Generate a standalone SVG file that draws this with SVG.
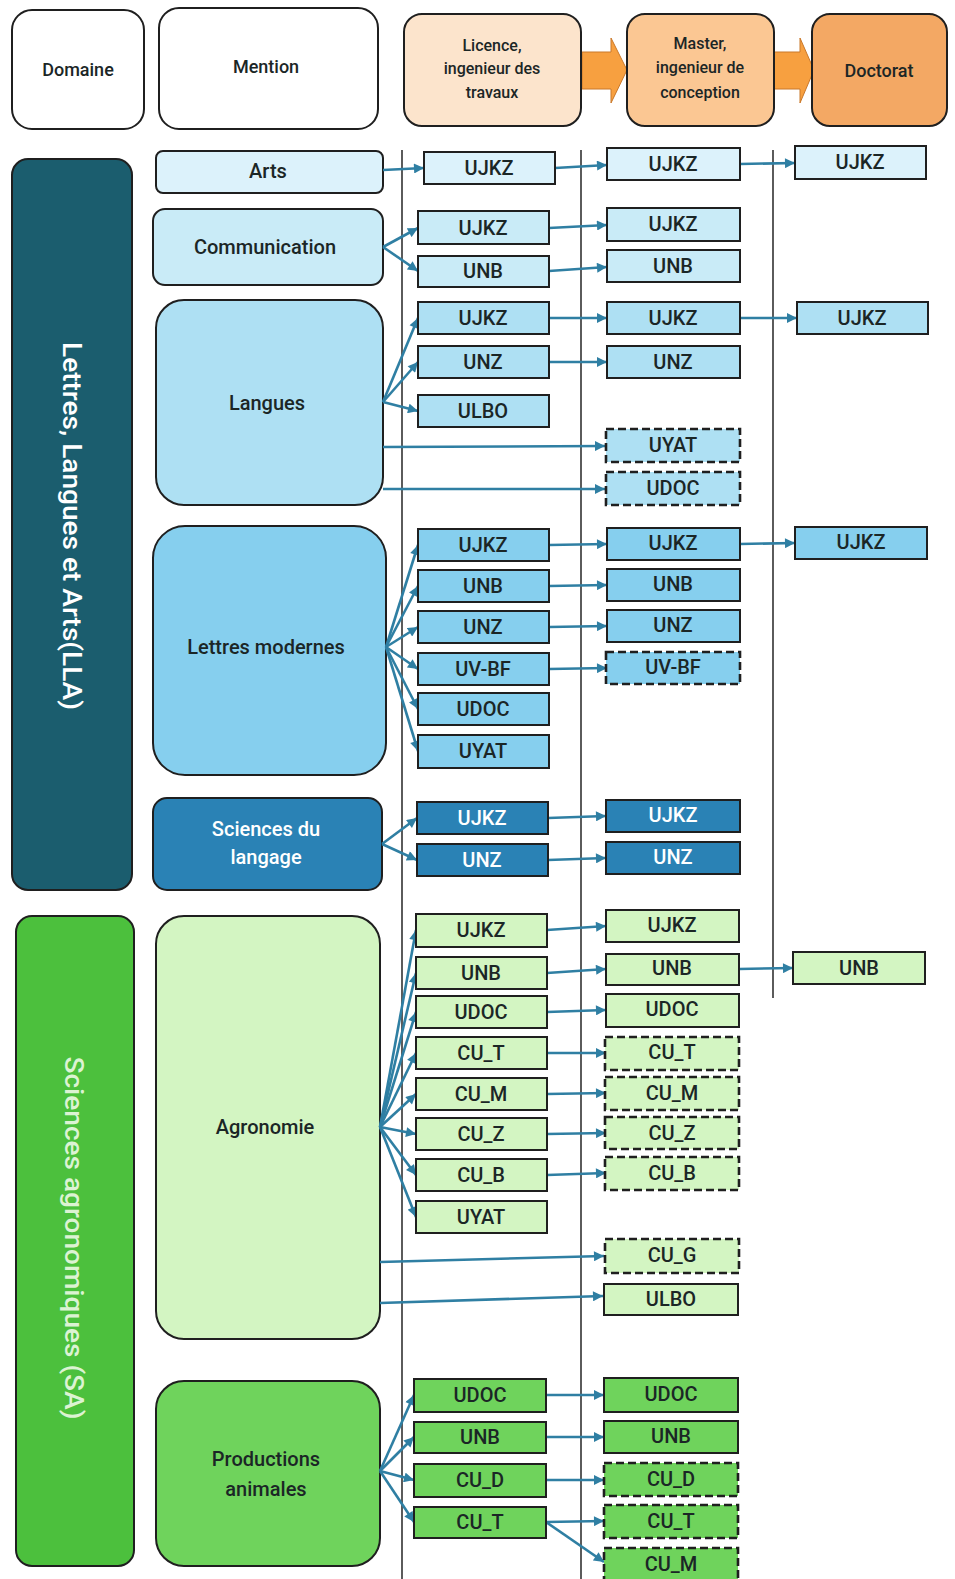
<svg xmlns="http://www.w3.org/2000/svg" width="955" height="1579" viewBox="0 0 955 1579">
<style>
text{font-family:Roboto,"Liberation Sans",sans-serif;font-weight:500;fill:#1b2626;text-anchor:middle;dominant-baseline:central}
.h{font-size:18px}
.hs{font-size:16px}
.m{font-size:20px}
.b{font-size:20px}
.w{fill:#ffffff}
.box{stroke:#1f1f1f;stroke-width:2}
.dash{stroke:#1f1f1f;stroke-width:2.6;stroke-dasharray:8 4}
.mb{stroke:#1f1f1f;stroke-width:2}
.c{stroke:#2f7fa3;stroke-width:2.6;fill:none}
.vl{stroke:#333;stroke-width:1.6}
.arts{fill:#dcf2fb}.comm{fill:#c9ebf7}.lang{fill:#aee0f3}.lm{fill:#86cfee}.sdl{fill:#2a82b5}
.agro{fill:#d3f5c2}.pa{fill:#6fd35c}
</style>
<defs>
<marker id="ah" viewBox="0 0 10 10" refX="10" refY="5" markerWidth="11" markerHeight="10" markerUnits="userSpaceOnUse" orient="auto"><path d="M0,0 L10,5 L0,10 z" fill="#2f7fa3"/></marker>
</defs>
<rect width="955" height="1579" fill="#ffffff"/>

<!-- header -->
<g id="hdr-domaine"><rect x="12" y="10" width="132" height="119" rx="20" fill="#fff" class="mb"/><text x="78" y="69" class="h">Domaine</text></g>
<g id="hdr-mention"><rect x="159" y="8" width="219" height="121" rx="20" fill="#fff" class="mb"/><text x="266" y="66" class="h">Mention</text></g>
<g id="hdr-arrows">
<polygon points="582,52 611,52 611,38 627,70 611,103 611,89 582,89" fill="#f7a040" stroke="#c9782a" stroke-width="1"/>
<polygon points="773,52 800,52 800,38 814,70 800,103 800,89 773,89" fill="#f7a040" stroke="#c9782a" stroke-width="1"/>
</g>
<g id="hdr-licence"><rect x="404" y="14" width="177" height="112" rx="18" fill="#fce4cc" class="mb"/><text x="492" y="45" class="hs">Licence,</text><text x="492" y="68" class="hs">ingenieur des</text><text x="492" y="92" class="hs">travaux</text></g>
<g id="hdr-master"><rect x="627" y="14" width="147" height="112" rx="18" fill="#fbc793" class="mb"/><text x="700" y="43" class="hs">Master,</text><text x="700" y="67" class="hs">ingenieur de</text><text x="700" y="92" class="hs">conception</text></g>
<g id="hdr-doctorat"><rect x="812" y="14" width="135" height="112" rx="18" fill="#f3a864" class="mb"/><text x="879" y="70" class="h">Doctorat</text></g>

<!-- vertical separators -->
<g id="separators">
<line x1="402" y1="150" x2="402" y2="1579" class="vl"/>
<line x1="581" y1="150" x2="581" y2="1579" class="vl"/>
<line x1="773" y1="150" x2="773" y2="998" class="vl"/>
</g>

<!-- domains -->
<g id="dom-lla"><rect x="12" y="159" width="120" height="731" rx="16" fill="#1b5d6e" class="mb"/><text transform="translate(72,526) rotate(90)" class="w" font-size="26" textLength="368" lengthAdjust="spacingAndGlyphs">Lettres, Langues et Arts(LLA)</text></g>
<g id="dom-sa"><rect x="16" y="916" width="118" height="650" rx="16" fill="#4cc03d" class="mb"/><text transform="translate(74,1238) rotate(90)" font-size="26" fill="#dcf3d3" style="fill:#dcf3d3" textLength="363" lengthAdjust="spacingAndGlyphs">Sciences agronomiques (SA)</text></g>

<!-- mentions -->
<g id="m-arts"><rect x="156" y="151" width="227" height="42" rx="7" class="arts mb"/><text x="268" y="171" class="m">Arts</text></g>
<g id="m-comm"><rect x="153" y="209" width="230" height="76" rx="12" class="comm mb"/><text x="265" y="247" class="m">Communication</text></g>
<g id="m-lang"><rect x="156" y="300" width="227" height="205" rx="28" class="lang mb"/><text x="267" y="403" class="m">Langues</text></g>
<g id="m-lm"><rect x="153" y="526" width="233" height="249" rx="32" class="lm mb"/><text x="266" y="647" class="m">Lettres modernes</text></g>
<g id="m-sdl"><rect x="153" y="798" width="229" height="92" rx="14" class="sdl mb"/><text x="266" y="829" class="m w">Sciences du</text><text x="266" y="857" class="m w">langage</text></g>
<g id="m-agro"><rect x="156" y="916" width="224" height="423" rx="28" class="agro mb"/><text x="265" y="1127" class="m">Agronomie</text></g>
<g id="m-pa"><rect x="156" y="1381" width="224" height="185" rx="28" class="pa mb"/><text x="266" y="1459" class="m">Productions</text><text x="266" y="1489" class="m">animales</text></g>

<!-- connectors -->
<g id="connectors">
<!-- Arts -->
<path class="c" marker-end="url(#ah)" d="M383,170 L424,168"/>
<path class="c" marker-end="url(#ah)" d="M555,168 L607,165"/>
<path class="c" marker-end="url(#ah)" d="M740,164 L795,163"/>
<!-- Communication -->
<path class="c" marker-end="url(#ah)" d="M383,247 L418,228"/>
<path class="c" marker-end="url(#ah)" d="M383,247 L418,271"/>
<path class="c" marker-end="url(#ah)" d="M549,228 L607,225"/>
<path class="c" marker-end="url(#ah)" d="M549,271 L607,267"/>
<!-- Langues -->
<path class="c" marker-end="url(#ah)" d="M383,402 L418,318"/>
<path class="c" marker-end="url(#ah)" d="M383,402 L418,362"/>
<path class="c" marker-end="url(#ah)" d="M383,402 L418,411"/>
<path class="c" marker-end="url(#ah)" d="M383,447 L605,446"/>
<path class="c" marker-end="url(#ah)" d="M383,489 L605,489"/>
<path class="c" marker-end="url(#ah)" d="M549,318 L607,318"/>
<path class="c" marker-end="url(#ah)" d="M549,362 L607,362"/>
<path class="c" marker-end="url(#ah)" d="M740,318 L797,318"/>
<!-- Lettres modernes -->
<path class="c" marker-end="url(#ah)" d="M386,647 L418,545"/>
<path class="c" marker-end="url(#ah)" d="M386,647 L418,586"/>
<path class="c" marker-end="url(#ah)" d="M386,647 L418,627"/>
<path class="c" marker-end="url(#ah)" d="M386,647 L418,669"/>
<path class="c" marker-end="url(#ah)" d="M386,647 L418,709"/>
<path class="c" marker-end="url(#ah)" d="M386,647 L418,751"/>
<path class="c" marker-end="url(#ah)" d="M549,545 L607,544"/>
<path class="c" marker-end="url(#ah)" d="M549,586 L607,585"/>
<path class="c" marker-end="url(#ah)" d="M549,627 L607,626"/>
<path class="c" marker-end="url(#ah)" d="M549,669 L607,668"/>
<path class="c" marker-end="url(#ah)" d="M740,544 L795,543"/>
<!-- Sciences du langage -->
<path class="c" marker-end="url(#ah)" d="M382,844 L417,818"/>
<path class="c" marker-end="url(#ah)" d="M382,844 L417,860"/>
<path class="c" marker-end="url(#ah)" d="M548,818 L606,816"/>
<path class="c" marker-end="url(#ah)" d="M548,860 L606,858"/>
<!-- Agronomie -->
<path class="c" marker-end="url(#ah)" d="M380,1127 L416,930"/>
<path class="c" marker-end="url(#ah)" d="M380,1127 L416,973"/>
<path class="c" marker-end="url(#ah)" d="M380,1127 L416,1012"/>
<path class="c" marker-end="url(#ah)" d="M380,1127 L416,1053"/>
<path class="c" marker-end="url(#ah)" d="M380,1127 L416,1094"/>
<path class="c" marker-end="url(#ah)" d="M380,1127 L416,1134"/>
<path class="c" marker-end="url(#ah)" d="M380,1127 L416,1175"/>
<path class="c" marker-end="url(#ah)" d="M380,1127 L416,1217"/>
<path class="c" marker-end="url(#ah)" d="M380,1262 L604,1256"/>
<path class="c" marker-end="url(#ah)" d="M380,1303 L603,1296"/>
<path class="c" marker-end="url(#ah)" d="M547,930 L606,926"/>
<path class="c" marker-end="url(#ah)" d="M547,973 L606,969"/>
<path class="c" marker-end="url(#ah)" d="M547,1012 L606,1010"/>
<path class="c" marker-end="url(#ah)" d="M547,1053 L606,1053"/>
<path class="c" marker-end="url(#ah)" d="M547,1094 L606,1093"/>
<path class="c" marker-end="url(#ah)" d="M547,1134 L606,1133"/>
<path class="c" marker-end="url(#ah)" d="M547,1175 L606,1173"/>
<path class="c" marker-end="url(#ah)" d="M739,969 L793,968"/>
<!-- Productions animales -->
<path class="c" marker-end="url(#ah)" d="M380,1471 L414,1395"/>
<path class="c" marker-end="url(#ah)" d="M380,1471 L414,1437"/>
<path class="c" marker-end="url(#ah)" d="M380,1471 L414,1480"/>
<path class="c" marker-end="url(#ah)" d="M380,1471 L414,1522"/>
<path class="c" marker-end="url(#ah)" d="M546,1395 L604,1395"/>
<path class="c" marker-end="url(#ah)" d="M546,1437 L604,1437"/>
<path class="c" marker-end="url(#ah)" d="M546,1480 L604,1480"/>
<path class="c" marker-end="url(#ah)" d="M546,1522 L604,1521"/>
<path class="c" marker-end="url(#ah)" d="M546,1522 L604,1562"/>
</g>

<!-- Arts row -->
<g id="arts-l-ujkz"><rect x="424" y="152" width="131" height="32" class="arts box"/><text x="489" y="168" class="b">UJKZ</text></g>
<g id="arts-m-ujkz"><rect x="607" y="148" width="133" height="32" class="arts box"/><text x="673" y="164" class="b">UJKZ</text></g>
<g id="arts-d-ujkz"><rect x="795" y="146" width="131" height="33" class="arts box"/><text x="860" y="162" class="b">UJKZ</text></g>

<!-- Communication -->
<g id="comm-l-ujkz"><rect x="418" y="211" width="131" height="33" class="comm box"/><text x="483" y="228" class="b">UJKZ</text></g>
<g id="comm-l-unb"><rect x="418" y="256" width="131" height="31" class="comm box"/><text x="483" y="271" class="b">UNB</text></g>
<g id="comm-m-ujkz"><rect x="607" y="208" width="133" height="33" class="comm box"/><text x="673" y="224" class="b">UJKZ</text></g>
<g id="comm-m-unb"><rect x="607" y="250" width="133" height="32" class="comm box"/><text x="673" y="266" class="b">UNB</text></g>

<!-- Langues -->
<g id="lang-l-ujkz"><rect x="418" y="302" width="131" height="32" class="lang box"/><text x="483" y="318" class="b">UJKZ</text></g>
<g id="lang-l-unz"><rect x="418" y="346" width="131" height="32" class="lang box"/><text x="483" y="362" class="b">UNZ</text></g>
<g id="lang-l-ulbo"><rect x="418" y="395" width="131" height="32" class="lang box"/><text x="483" y="411" class="b">ULBO</text></g>
<g id="lang-m-ujkz"><rect x="607" y="302" width="133" height="32" class="lang box"/><text x="673" y="318" class="b">UJKZ</text></g>
<g id="lang-m-unz"><rect x="607" y="346" width="133" height="32" class="lang box"/><text x="673" y="362" class="b">UNZ</text></g>
<g id="lang-m-uyat"><rect x="606" y="429" width="134" height="33" class="lang dash"/><text x="673" y="445" class="b">UYAT</text></g>
<g id="lang-m-udoc"><rect x="606" y="472" width="134" height="33" class="lang dash"/><text x="673" y="488" class="b">UDOC</text></g>
<g id="lang-d-ujkz"><rect x="797" y="302" width="131" height="32" class="lang box"/><text x="862" y="318" class="b">UJKZ</text></g>

<!-- Lettres modernes -->
<g id="lm-l-ujkz"><rect x="418" y="529" width="131" height="32" class="lm box"/><text x="483" y="545" class="b">UJKZ</text></g>
<g id="lm-l-unb"><rect x="418" y="570" width="131" height="32" class="lm box"/><text x="483" y="586" class="b">UNB</text></g>
<g id="lm-l-unz"><rect x="418" y="611" width="131" height="32" class="lm box"/><text x="483" y="627" class="b">UNZ</text></g>
<g id="lm-l-uvbf"><rect x="418" y="653" width="131" height="32" class="lm box"/><text x="483" y="669" class="b">UV-BF</text></g>
<g id="lm-l-udoc"><rect x="418" y="693" width="131" height="32" class="lm box"/><text x="483" y="709" class="b">UDOC</text></g>
<g id="lm-l-uyat"><rect x="418" y="735" width="131" height="33" class="lm box"/><text x="483" y="751" class="b">UYAT</text></g>
<g id="lm-m-ujkz"><rect x="607" y="528" width="133" height="32" class="lm box"/><text x="673" y="543" class="b">UJKZ</text></g>
<g id="lm-m-unb"><rect x="607" y="569" width="133" height="32" class="lm box"/><text x="673" y="584" class="b">UNB</text></g>
<g id="lm-m-unz"><rect x="607" y="610" width="133" height="32" class="lm box"/><text x="673" y="625" class="b">UNZ</text></g>
<g id="lm-m-uvbf"><rect x="606" y="652" width="134" height="32" class="lm dash"/><text x="673" y="667" class="b">UV-BF</text></g>
<g id="lm-d-ujkz"><rect x="795" y="527" width="132" height="32" class="lm box"/><text x="861" y="542" class="b">UJKZ</text></g>

<!-- Sciences du langage -->
<g id="sdl-l-ujkz"><rect x="417" y="802" width="131" height="32" class="sdl box"/><text x="482" y="818" class="b w">UJKZ</text></g>
<g id="sdl-l-unz"><rect x="417" y="844" width="131" height="32" class="sdl box"/><text x="482" y="860" class="b w">UNZ</text></g>
<g id="sdl-m-ujkz"><rect x="606" y="800" width="134" height="32" class="sdl box"/><text x="673" y="815" class="b w">UJKZ</text></g>
<g id="sdl-m-unz"><rect x="606" y="842" width="134" height="32" class="sdl box"/><text x="673" y="857" class="b w">UNZ</text></g>

<!-- Agronomie -->
<g id="agro-l-ujkz"><rect x="416" y="914" width="131" height="33" class="agro box"/><text x="481" y="930" class="b">UJKZ</text></g>
<g id="agro-l-unb"><rect x="416" y="957" width="131" height="32" class="agro box"/><text x="481" y="973" class="b">UNB</text></g>
<g id="agro-l-udoc"><rect x="416" y="996" width="131" height="32" class="agro box"/><text x="481" y="1012" class="b">UDOC</text></g>
<g id="agro-l-cut"><rect x="416" y="1037" width="131" height="32" class="agro box"/><text x="481" y="1053" class="b">CU_T</text></g>
<g id="agro-l-cum"><rect x="416" y="1078" width="131" height="32" class="agro box"/><text x="481" y="1094" class="b">CU_M</text></g>
<g id="agro-l-cuz"><rect x="416" y="1118" width="131" height="32" class="agro box"/><text x="481" y="1134" class="b">CU_Z</text></g>
<g id="agro-l-cub"><rect x="416" y="1159" width="131" height="32" class="agro box"/><text x="481" y="1175" class="b">CU_B</text></g>
<g id="agro-l-uyat"><rect x="416" y="1201" width="131" height="32" class="agro box"/><text x="481" y="1217" class="b">UYAT</text></g>
<g id="agro-m-ujkz"><rect x="606" y="910" width="133" height="32" class="agro box"/><text x="672" y="925" class="b">UJKZ</text></g>
<g id="agro-m-unb"><rect x="606" y="954" width="133" height="31" class="agro box"/><text x="672" y="968" class="b">UNB</text></g>
<g id="agro-m-udoc"><rect x="606" y="994" width="133" height="33" class="agro box"/><text x="672" y="1009" class="b">UDOC</text></g>
<g id="agro-m-cut"><rect x="605" y="1037" width="134" height="33" class="agro dash"/><text x="672" y="1052" class="b">CU_T</text></g>
<g id="agro-m-cum"><rect x="605" y="1077" width="134" height="33" class="agro dash"/><text x="672" y="1093" class="b">CU_M</text></g>
<g id="agro-m-cuz"><rect x="605" y="1117" width="134" height="32" class="agro dash"/><text x="672" y="1133" class="b">CU_Z</text></g>
<g id="agro-m-cub"><rect x="605" y="1157" width="134" height="33" class="agro dash"/><text x="672" y="1173" class="b">CU_B</text></g>
<g id="agro-m-cug"><rect x="605" y="1239" width="134" height="34" class="agro dash"/><text x="672" y="1255" class="b">CU_G</text></g>
<g id="agro-m-ulbo"><rect x="604" y="1284" width="134" height="31" class="agro box"/><text x="671" y="1299" class="b">ULBO</text></g>
<g id="agro-d-unb"><rect x="793" y="952" width="132" height="32" class="agro box"/><text x="859" y="968" class="b">UNB</text></g>

<!-- Productions animales -->
<g id="pa-l-udoc"><rect x="414" y="1379" width="132" height="33" class="pa box"/><text x="480" y="1395" class="b">UDOC</text></g>
<g id="pa-l-unb"><rect x="414" y="1422" width="132" height="31" class="pa box"/><text x="480" y="1437" class="b">UNB</text></g>
<g id="pa-l-cud"><rect x="414" y="1464" width="132" height="33" class="pa box"/><text x="480" y="1480" class="b">CU_D</text></g>
<g id="pa-l-cut"><rect x="414" y="1507" width="132" height="31" class="pa box"/><text x="480" y="1522" class="b">CU_T</text></g>
<g id="pa-m-udoc"><rect x="604" y="1378" width="134" height="34" class="pa box"/><text x="671" y="1394" class="b">UDOC</text></g>
<g id="pa-m-unb"><rect x="604" y="1421" width="134" height="32" class="pa box"/><text x="671" y="1436" class="b">UNB</text></g>
<g id="pa-m-cud"><rect x="604" y="1463" width="134" height="33" class="pa dash"/><text x="671" y="1479" class="b">CU_D</text></g>
<g id="pa-m-cut"><rect x="604" y="1505" width="134" height="33" class="pa dash"/><text x="671" y="1521" class="b">CU_T</text></g>
<g id="pa-m-cum"><rect x="604" y="1548" width="134" height="34" class="pa dash"/><text x="671" y="1564" class="b">CU_M</text></g>
</svg>
